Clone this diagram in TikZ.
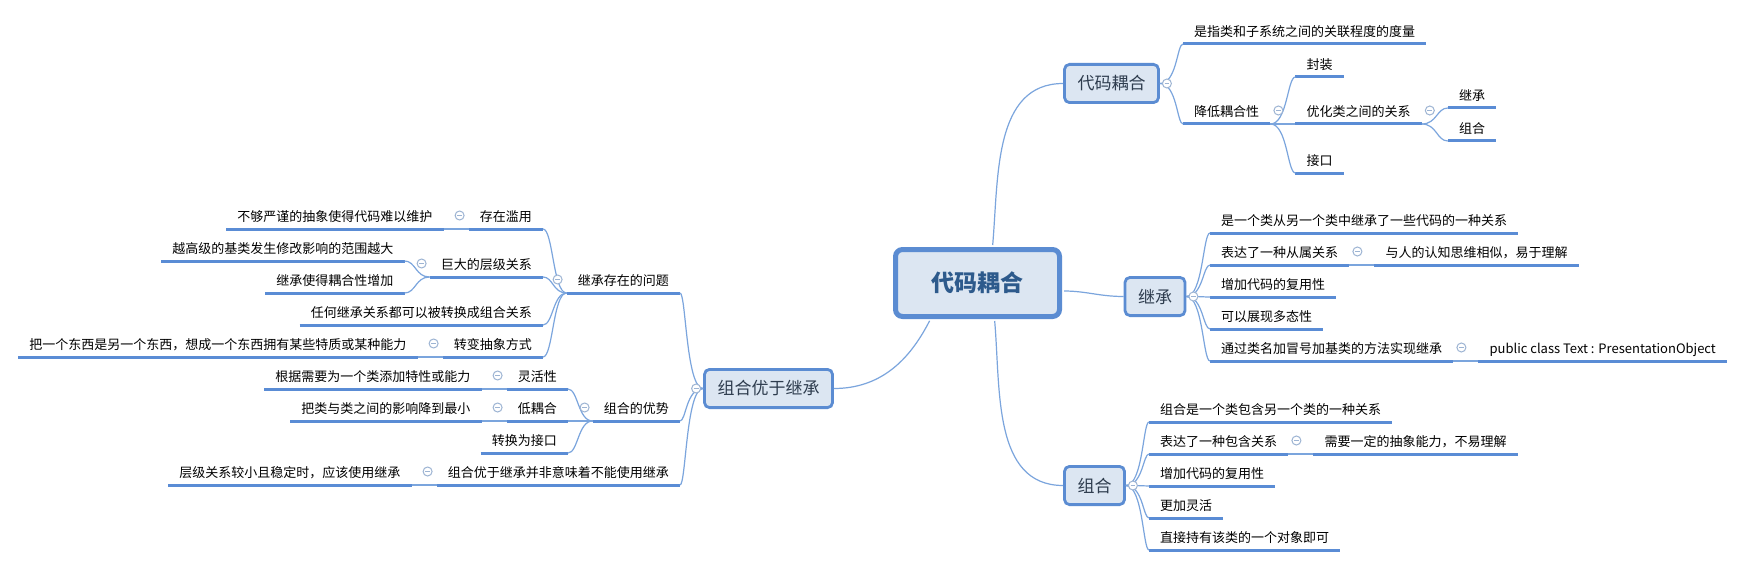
\documentclass[tikz,border=0pt]{standalone}
\usepackage{fontspec}
\setmainfont{Noto Sans CJK SC}
\usetikzlibrary{positioning, calc}

\definecolor{boxfill}{HTML}{DCE6F2}
\definecolor{boxline}{HTML}{5B8CD2}
\definecolor{barblue}{HTML}{5A8CD5}
\definecolor{linkblue}{HTML}{7BA5DD}
\definecolor{foldgray}{HTML}{9DB4D3}
\definecolor{coretext}{HTML}{2D5A8C}
\definecolor{topictext}{HTML}{2E3C4E}

\tikzset{
    core/.style={rectangle, rounded corners=7pt, draw=boxline, line width=5pt, fill=boxfill, minimum width=164pt, minimum height=67pt, text=coretext, font=\fontsize{23}{26}\selectfont\bfseries},
    topic/.style={rectangle, rounded corners=5pt, draw=boxline, line width=2.8pt, fill=boxfill, inner xsep=13pt, minimum height=38.2pt, text=topictext, font=\fontsize{17}{20}\selectfont},
    leaf/.style={inner xsep=11pt, inner ysep=4pt, text height=10pt, text depth=3pt, font=\fontsize{13}{15}\selectfont, append after command={(\tikzlastnode.south west) edge[uline] (\tikzlastnode.south east)}},
    uline/.style={draw=barblue, line width=3pt},
    link/.style={draw=linkblue, line width=1.2pt},
    branch/.style={to path={.. controls ($(\tikztotarget |- \tikztostart)+({-(#1)},0)$) and ($(\tikztotarget)+({-(#1)},0)$) .. (\tikztotarget)}},
    branch/.default=8,
    fold/.style={circle, draw=foldgray, fill=white, line width=1pt, minimum size=9pt, inner sep=0pt, path picture={\draw[foldgray, line width=1pt] ([xshift=-2.4pt]path picture bounding box.center) -- ([xshift=2.4pt]path picture bounding box.center);}}
}

\begin{document}
\begin{tikzpicture}[x=1pt, y=-1pt]

\fill[white] (0,0) rectangle (1748,567);
\useasboundingbox (0,0) rectangle (1748,567);

% Central topic
\node (main) [core] at (977.5,283) {代码耦合};

% Main topics
\node (dm) [topic] at (1111.5,83.5) {代码耦合};
\node (jc) [topic] at (1155,296.5) {继承};
\node (zh) [topic] at (1094.5,485.5) {组合};
\node (yy) [topic] at (768.5,388.5) {组合优于继承};

% 代码耦合
\node (dm1) [leaf, anchor=south west] at (1183,44) {是指类和子系统之间的关联程度的度量};
\node (dm2) [leaf, below=80pt of dm1.south west, anchor=south west] {降低耦合性};
\node (dm21) [leaf, above right=47pt and 25pt of dm2.south east, anchor=south west] {封装};
\node (dm22) [leaf, right=25pt of dm2.south east, anchor=south west] {优化类之间的关系};
\node (dm23) [leaf, below right=49pt and 25pt of dm2.south east, anchor=south west] {接口};
\node (dm221) [leaf, above right=16pt and 26pt of dm22.south east, anchor=south west] {继承};
\node (dm222) [leaf, below right=17pt and 26pt of dm22.south east, anchor=south west] {组合};

% 继承
\node (jc1) [leaf, anchor=south west] at (1210,233) {是一个类从另一个类中继承了一些代码的一种关系};
\node (jc2) [leaf, below=32pt of jc1.south west, anchor=south west] {表达了一种从属关系};
\node (jc3) [leaf, below=32pt of jc2.south west, anchor=south west] {增加代码的复用性};
\node (jc4) [leaf, below=32pt of jc3.south west, anchor=south west] {可以展现多态性};
\node (jc5) [leaf, below=32pt of jc4.south west, anchor=south west] {通过类名加冒号加基类的方法实现继承};
\node (jc21) [leaf, right=25pt of jc2.south east, anchor=south west] {与人的认知思维相似，易于理解};
\node (jc51) [leaf, right=25pt of jc5.south east, anchor=south west] {public class Text : PresentationObject};

% 组合
\node (zh1) [leaf, anchor=south west] at (1149,422) {组合是一个类包含另一个类的一种关系};
\node (zh2) [leaf, below=32pt of zh1.south west, anchor=south west] {表达了一种包含关系};
\node (zh3) [leaf, below=32pt of zh2.south west, anchor=south west] {增加代码的复用性};
\node (zh4) [leaf, below=32pt of zh3.south west, anchor=south west] {更加灵活};
\node (zh5) [leaf, below=32pt of zh4.south west, anchor=south west] {直接持有该类的一个对象即可};
\node (zh21) [leaf, right=25pt of zh2.south east, anchor=south west] {需要一定的抽象能力，不易理解};

% 组合优于继承
\node (wt) [leaf, anchor=south east] at (680,293) {继承存在的问题};
\node (ys) [leaf, below=128pt of wt.south east, anchor=south east] {组合的优势};
\node (fy) [leaf, below=64pt of ys.south east, anchor=south east] {组合优于继承并非意味着不能使用继承};

\node (wt1) [leaf, anchor=south east] at (543,229) {存在滥用};
\node (wt2) [leaf, below=48pt of wt1.south east, anchor=south east] {巨大的层级关系};
\node (wt3) [leaf, below=48pt of wt2.south east, anchor=south east] {任何继承关系都可以被转换成组合关系};
\node (wt4) [leaf, below=32pt of wt3.south east, anchor=south east] {转变抽象方式};
\node (wt11) [leaf, left=25pt of wt1.south west, anchor=south east] {不够严谨的抽象使得代码难以维护};
\node (wt21) [leaf, above left=16pt and 25pt of wt2.south west, anchor=south east] {越高级的基类发生修改影响的范围越大};
\node (wt22) [leaf, below left=16pt and 25pt of wt2.south west, anchor=south east] {继承使得耦合性增加};
\node (wt41) [leaf, left=25pt of wt4.south west, anchor=south east] {把一个东西是另一个东西，想成一个东西拥有某些特质或某种能力};

\node (ys1) [leaf, anchor=south east] at (568,389) {灵活性};
\node (ys2) [leaf, below=32pt of ys1.south east, anchor=south east] {低耦合};
\node (ys3) [leaf, below=32pt of ys2.south east, anchor=south east] {转换为接口};
\node (ys11) [leaf, left=25pt of ys1.south west, anchor=south east] {根据需要为一个类添加特性或能力};
\node (ys21) [leaf, left=25pt of ys2.south west, anchor=south east] {把类与类之间的影响降到最小};

\node (fy1) [leaf, left=25pt of fy.south west, anchor=south east] {层级关系较小且稳定时，应该使用继承};

% Links from the central topic
\draw[link, shorten <=2pt] ([xshift=15pt]main.north) to[out=85, in=180] (dm.west);
\draw[link, shorten <=2pt] ([yshift=-8pt]main.east) to[out=0, in=180] (jc.west);
\draw[link, shorten <=2pt] ([xshift=17pt]main.south) to[out=-85, in=180] (zh.west);
\draw[link, shorten <=2pt] ([xshift=-47pt]main.south) to[out=-117, in=0] (yy.east);

% Links on the right
\draw[link] (dm.east) to[branch=6] (dm1.south west);
\draw[link] (dm.east) to[branch=6] (dm2.south west);
\draw[link] (dm2.south east) to[branch] (dm21.south west);
\draw[link] (dm2.south east) to[branch] (dm22.south west);
\draw[link] (dm2.south east) to[branch] (dm23.south west);
\draw[link] (dm22.south east) to[branch=11] (dm221.south west);
\draw[link] (dm22.south east) to[branch=11] (dm222.south west);

\draw[link] (jc.east) to[branch=7] (jc1.south west);
\draw[link] (jc.east) to[branch=7] (jc2.south west);
\draw[link] (jc.east) to[branch=7] (jc3.south west);
\draw[link] (jc.east) to[branch=7] (jc4.south west);
\draw[link] (jc.east) to[branch=7] (jc5.south west);
\draw[link] (jc2.south east) -- (jc21.south west);
\draw[link] (jc5.south east) -- (jc51.south west);

\draw[link] (zh.east) to[branch=6] (zh1.south west);
\draw[link] (zh.east) to[branch=6] (zh2.south west);
\draw[link] (zh.east) to[branch=6] (zh3.south west);
\draw[link] (zh.east) to[branch=6] (zh4.south west);
\draw[link] (zh.east) to[branch=6] (zh5.south west);
\draw[link] (zh2.south east) -- (zh21.south west);

% Links on the left
\draw[link] (yy.west) to[branch=-6] (wt.south east);
\draw[link] (yy.west) to[branch=-6] (ys.south east);
\draw[link] (yy.west) to[branch=-6] (fy.south east);

\draw[link] (wt.south west) to[branch=-10] (wt1.south east);
\draw[link] (wt.south west) to[branch=-10] (wt2.south east);
\draw[link] (wt.south west) to[branch=-10] (wt3.south east);
\draw[link] (wt.south west) to[branch=-10] (wt4.south east);
\draw[link] (wt1.south west) -- (wt11.south east);
\draw[link] (wt2.south west) to[branch=-11] (wt21.south east);
\draw[link] (wt2.south west) to[branch=-11] (wt22.south east);
\draw[link] (wt4.south west) -- (wt41.south east);

\draw[link] (ys.south west) to[branch=-10] (ys1.south east);
\draw[link] (ys.south west) to[branch=-10] (ys2.south east);
\draw[link] (ys.south west) to[branch=-10] (ys3.south east);
\draw[link] (ys1.south west) -- (ys11.south east);
\draw[link] (ys2.south west) -- (ys21.south east);

\draw[link] (fy.south west) -- (fy1.south east);

% Fold marks
\node (f-dm) [fold] at ([xshift=7pt]dm.east) {};
\node (f-jc) [fold] at ([xshift=7pt]jc.east) {};
\node (f-zh) [fold] at ([xshift=7pt]zh.east) {};
\node (f-yy) [fold] at ([xshift=-7pt]yy.west) {};
\node (f-dm2) [fold] at ([xshift=8pt, yshift=13.5pt]dm2.south east) {};
\node (f-dm22) [fold] at ([xshift=8pt, yshift=13.5pt]dm22.south east) {};
\node (f-jc2) [fold] at ([xshift=8pt, yshift=13.5pt]jc2.south east) {};
\node (f-jc5) [fold] at ([xshift=8pt, yshift=13.5pt]jc5.south east) {};
\node (f-zh2) [fold] at ([xshift=8pt, yshift=13.5pt]zh2.south east) {};
\node (f-wt) [fold] at ([xshift=-9pt, yshift=13.5pt]wt.south west) {};
\node (f-wt1) [fold] at ([xshift=-9pt, yshift=13.5pt]wt1.south west) {};
\node (f-wt2) [fold] at ([xshift=-8pt, yshift=13.5pt]wt2.south west) {};
\node (f-wt4) [fold] at ([xshift=-9pt, yshift=13.5pt]wt4.south west) {};
\node (f-ys) [fold] at ([xshift=-8pt, yshift=13.5pt]ys.south west) {};
\node (f-ys1) [fold] at ([xshift=-9pt, yshift=13.5pt]ys1.south west) {};
\node (f-ys2) [fold] at ([xshift=-9pt, yshift=13.5pt]ys2.south west) {};
\node (f-fy) [fold] at ([xshift=-9pt, yshift=13.5pt]fy.south west) {};

\end{tikzpicture}
\end{document}
